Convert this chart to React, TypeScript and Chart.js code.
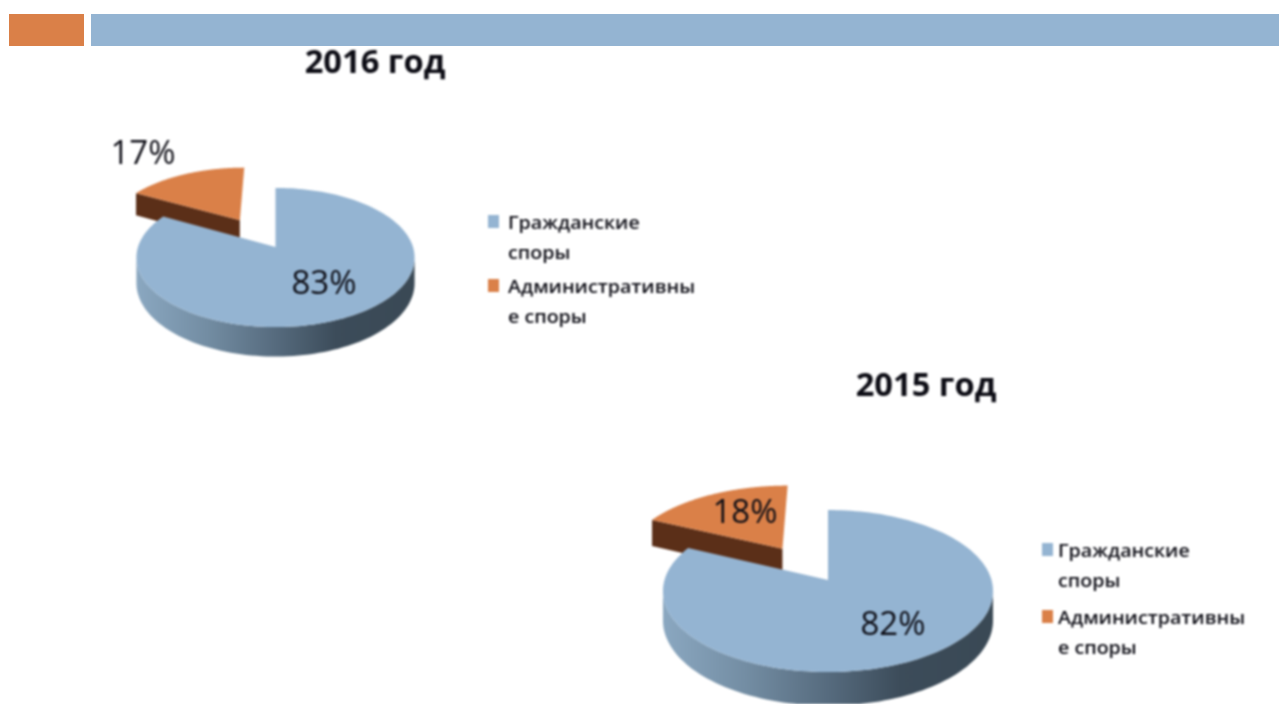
import React, { useEffect, useRef } from "react";
import { Chart, registerables } from "chart.js";

Chart.register(...registerables);

const categories = ["Гражданские споры", "Административные споры"];
const legendLines = [
  ["Гражданские", "споры"],
  ["Административны", "е споры"],
];
const values2016 = [83, 17];
const values2015 = [82, 18];
const title2016 = "2016 год";
const title2015 = "2015 год";

const BLUE = "#94B4D2";
const ORANGE = "#DA8048";
const ORANGE_SIDE = "#5B2F18";
const TEXT = "#0c0c14";

type Layout = {
  title: string;
  titleX: number;
  titleY: number;
  cx: number;
  cy: number;
  a: number;
  b: number;
  k: number;
  depth: number;
  explode: number;
  explodeTurn: number;
  labelPos: number[][];
  legendX: number;
  legendTextGap: number;
  legendY: number[];
};

const layout2016: Layout = {
  title: title2016,
  titleX: 375,
  titleY: 64,
  cx: 275.5,
  cy: 247,
  a: 68,
  b: 137.5,
  k: 0.151,
  depth: 25,
  explode: 0.5,
  explodeTurn: -0.05,
  labelPos: [
    [324, 285],
    [143, 155],
  ],
  legendX: 488,
  legendTextGap: 20,
  legendY: [224, 288],
};

const layout2015: Layout = {
  title: title2015,
  titleX: 926,
  titleY: 387,
  cx: 828,
  cy: 580,
  a: 79.5,
  b: 163.5,
  k: 0.136,
  depth: 29,
  explode: 0.51,
  explodeTurn: -0.05,
  labelPos: [
    [893, 626],
    [745, 514],
  ],
  legendX: 1042,
  legendTextGap: 16,
  legendY: [552, 619],
};

function stretchedText(
  ctx: CanvasRenderingContext2D,
  text: string,
  x: number,
  y: number,
  font: string,
  sx: number,
  align: CanvasTextAlign,
) {
  ctx.save();
  ctx.font = font;
  ctx.fillStyle = TEXT;
  ctx.textAlign = align;
  ctx.textBaseline = "middle";
  ctx.translate(x, y);
  ctx.scale(sx, 1);
  ctx.fillText(text, 0, 0);
  ctx.restore();
}

function pie3dPlugin(lay: Layout) {
  return {
    id: "pie3d",
    beforeDatasetsDraw(chart: any) {
      const ctx: CanvasRenderingContext2D = chart.ctx;
      const arcs = chart.getDatasetMeta(0).data as any[];
      const colors = chart.data.datasets[0].backgroundColor as string[];
      const project = (u: number, v: number) => {
        const w = 1 - lay.k * v;
        return {
          x: lay.cx + (lay.b * u) / w,
          y: lay.cy + (lay.a * v) / w,
          d: lay.depth / w,
        };
      };
      const leftX = lay.cx - lay.b;
      const rightX = lay.cx + lay.b;
      const grad = ctx.createLinearGradient(leftX, 0, rightX, 0);
      grad.addColorStop(0, "#8AA7C0");
      grad.addColorStop(0.25, "#738DA3");
      grad.addColorStop(0.5, "#566B7E");
      grad.addColorStop(0.72, "#3C4C5A");
      grad.addColorStop(1, "#3A4955");

      // Exploded slices go first: the main slice overlaps their walls.
      const order = arcs
        .map((arc, i) => ({ arc, i }))
        .sort((p, q) => (q.i === 0 ? -1 : 0) - (p.i === 0 ? -1 : 0));

      order.forEach(({ arc, i }) => {
        const mid = (arc.startAngle + arc.endAngle) / 2 + lay.explodeTurn;
        const t = i === 0 ? 0 : lay.explode;
        const ou = Math.cos(mid) * t;
        const ov = Math.sin(mid) * t;
        const pts = [project(ou, ov)];
        const n = 160;
        for (let s = 0; s <= n; s++) {
          const ang = arc.startAngle + ((arc.endAngle - arc.startAngle) * s) / n;
          pts.push(project(ou + Math.cos(ang), ov + Math.sin(ang)));
        }
        ctx.save();
        ctx.fillStyle = i === 0 ? grad : ORANGE_SIDE;
        // Walls: each run of edges that faces the viewer becomes one polygon.
        let run: typeof pts = [];
        const flush = () => {
          if (run.length > 1) {
            ctx.beginPath();
            run.forEach((p, s) => (s ? ctx.lineTo(p.x, p.y) : ctx.moveTo(p.x, p.y)));
            [...run].reverse().forEach((p) => ctx.lineTo(p.x, p.y + p.d));
            ctx.closePath();
            ctx.fill();
          }
          run = [];
        };
        // The closing radial edge stays out: the reference shows no wall there.
        for (let s = 0; s < pts.length - 1; s++) {
          const p = pts[s];
          const q = pts[s + 1];
          if (q.x < p.x) {
            if (!run.length) run.push(p);
            run.push(q);
          } else {
            flush();
          }
        }
        flush();
        ctx.beginPath();
        pts.forEach((p, s) => (s ? ctx.lineTo(p.x, p.y) : ctx.moveTo(p.x, p.y)));
        ctx.closePath();
        ctx.fillStyle = colors[i];
        ctx.fill();
        ctx.restore();
      });
      return false;
    },
    afterDraw(chart: any) {
      const ctx: CanvasRenderingContext2D = chart.ctx;
      const values = chart.data.datasets[0].data as number[];
      const colors = chart.data.datasets[0].backgroundColor as string[];
      stretchedText(ctx, lay.title, lay.titleX, lay.titleY, 'bold 32px "Open Sans"', 1.02, "center");
      values.forEach((v, i) => {
        const [x, y] = lay.labelPos[i];
        stretchedText(ctx, `${v}%`, x, y, '33px "Open Sans"', 1.0, "center");
        ctx.fillStyle = colors[i];
        ctx.fillRect(lay.legendX, lay.legendY[i] - 9, 11, 13);
        legendLines[i].forEach((line, j) => {
          stretchedText(ctx, line, lay.legendX + lay.legendTextGap, lay.legendY[i] + j * 30, '600 18px "Open Sans"', 1.09, "left");
        });
      });
    },
  };
}

function PieCanvas({ values, lay }: { values: number[]; lay: Layout }) {
  const ref = useRef<HTMLCanvasElement>(null);
  useEffect(() => {
    const chart = new Chart(ref.current!, {
      type: "pie",
      data: {
        labels: categories,
        datasets: [{ data: values, backgroundColor: [BLUE, ORANGE], borderWidth: 0 }],
      },
      options: {
        responsive: false,
        animation: false,
        events: [],
        plugins: { legend: { display: false }, tooltip: { enabled: false } },
      },
      plugins: [pie3dPlugin(lay)],
    } as any);
    return () => chart.destroy();
  }, []);
  return (
    <canvas
      ref={ref}
      width={1279}
      height={704}
      style={{ position: "absolute", left: 0, top: 0, width: 1279, height: 704, filter: "blur(0.8px)" }}
    />
  );
}

export default function App() {
  return (
    <div style={{ position: "fixed", left: 0, top: 0, width: 1279, height: 704, background: "#fff", overflow: "hidden" }}>
      <div style={{ position: "absolute", left: 9, top: 14, width: 75, height: 32, background: ORANGE, filter: "blur(0.6px)" }} />
      <div style={{ position: "absolute", left: 91, top: 14, width: 1190, height: 32, background: BLUE, filter: "blur(0.6px)" }} />
      <PieCanvas values={values2016} lay={layout2016} />
      <PieCanvas values={values2015} lay={layout2015} />
    </div>
  );
}
